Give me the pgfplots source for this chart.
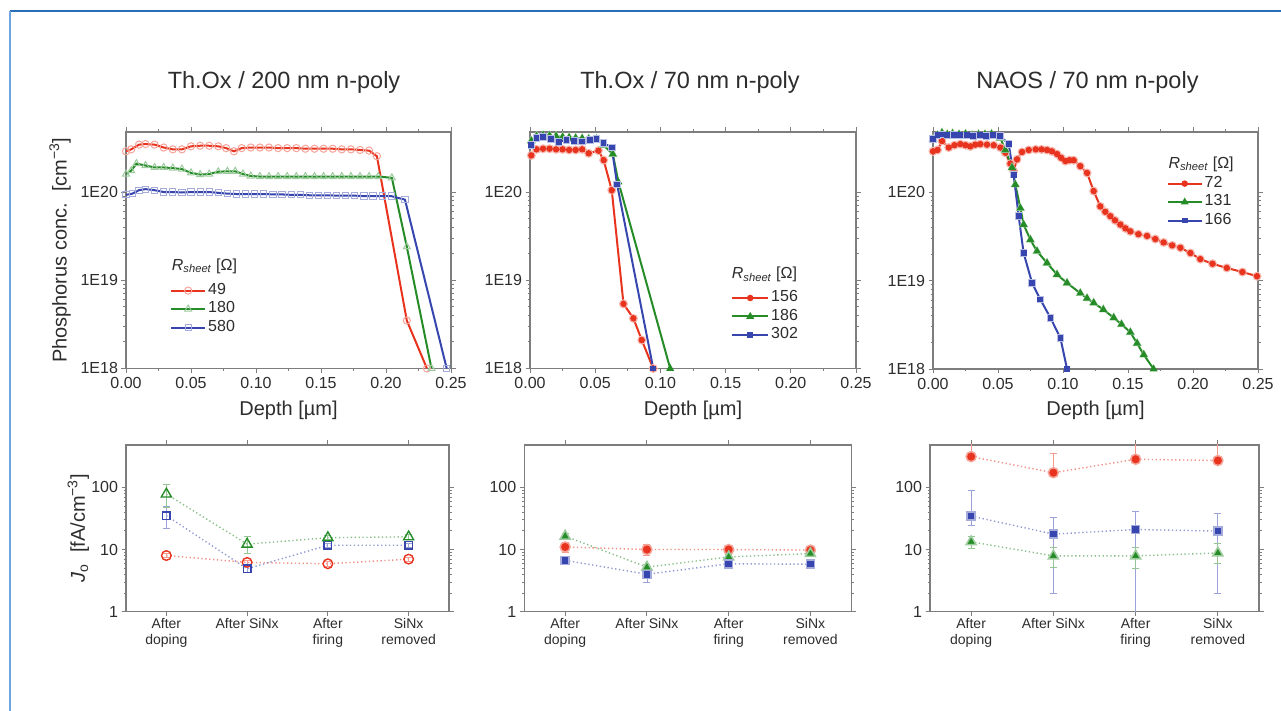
\documentclass[border=0pt]{standalone}
\usepackage{fontspec}
\setmainfont{Liberation Sans}
\usepackage{pgfplots}
\pgfplotsset{compat=1.18}

\definecolor{txt}{RGB}{45,45,45}
\definecolor{frame}{RGB}{125,125,125}
\definecolor{cred}{RGB}{232,52,30}
\definecolor{cgreen}{RGB}{38,140,40}
\definecolor{cblue}{RGB}{55,70,175}
\definecolor{edgeA}{RGB}{40,110,180}
\definecolor{edgeB}{RGB}{110,165,225}

\newcommand{\fs}[2]{\fontsize{#1}{#2}\selectfont}
\newcommand{\rsheet}{\textit{R}\textsubscript{\textit{sheet}} [Ω]}

\begin{document}
\begin{tikzpicture}
\useasboundingbox (0,0) rectangle (1281pt,711pt);
\fill[white] (0,0) rectangle (1281pt,711pt);
\draw[edgeA, line width=1.4pt] (10pt,700pt) -- (1281pt,700pt);
\draw[edgeB, line width=1.4pt] (10pt,700pt) -- (10pt,0pt);

\node[anchor=base, font=\fs{23.5}{28}, text=txt] at (284pt,622.7pt) {Th.Ox / 200 nm n-poly};
\node[anchor=base, font=\fs{23.5}{28}, text=txt] at (690pt,622.7pt) {Th.Ox / 70 nm n-poly};
\node[anchor=base, font=\fs{23.5}{28}, text=txt] at (1087.5pt,622.7pt) {NAOS / 70 nm n-poly};

% ---------- profile, Th.Ox / 200 nm ----------
\begin{axis}[
  at={(126pt,342.5pt)}, anchor=south west, scale only axis, width=325pt, height=236.5pt,
  ymode=log, xmin=0, xmax=0.25, ymin=1e18, ymax=4.8e20,
  axis line style={frame, line width=1.3pt},
  tick style={frame, line width=0.9pt},
  major tick length=4.5pt, minor tick length=2.5pt, tick align=outside,
  tick label style={font=\fs{16}{19}, text=txt},
  label style={font=\fs{20}{23}, text=txt},
  xtick={0,0.05,0.1,0.15,0.2,0.25}, minor x tick num=1,
  xticklabel style={/pgf/number format/fixed, /pgf/number format/fixed zerofill, /pgf/number format/precision=2, /pgf/number format/assume math mode=true, anchor=base, yshift=-16pt},
  ytick={1e18,1e19,1e20}, yticklabels={1E18,1E19,1E20},
  xlabel={Depth [µm]},
  xlabel style={at={(axis description cs:0.5,0)}, anchor=base, yshift=-47pt},
  ylabel={Phosphorus conc.\ \ [cm\textsuperscript{−3}]},
  ylabel style={at={(axis description cs:-0.1825,0.5)}, anchor=base},
  legend style={at={(axis description cs:0.1354,0.368)}, anchor=north west, draw=none, fill=none,
    inner sep=0pt, row sep=0.5pt, nodes={inner sep=2pt, text height=10.8pt, text depth=3.2pt},
    font=\fs{16}{19}, text=txt, cells={anchor=west}},
  legend image code/.code={\draw[mark repeat=2, mark phase=2, #1] plot coordinates {(0pt,0pt)(17pt,0pt)(34pt,0pt)};},
]
\addplot[cred, line width=2pt, mark=o, mark size=3.6pt, mark options={draw=cred!45, line width=1pt, fill=none}] coordinates {
(0.000,2.9e20)(0.004,3.05e20)(0.010,3.45e20)(0.015,3.5e20)(0.022,3.45e20)(0.029,3.2e20)
(0.036,3.05e20)(0.043,3.05e20)(0.050,3.3e20)(0.057,3.35e20)(0.064,3.35e20)(0.071,3.3e20)
(0.077,3.15e20)(0.083,2.9e20)(0.089,3.15e20)(0.096,3.2e20)(0.103,3.2e20)(0.110,3.2e20)
(0.117,3.15e20)(0.124,3.15e20)(0.131,3.15e20)(0.138,3.1e20)(0.145,3.1e20)(0.152,3.1e20)
(0.159,3.1e20)(0.166,3.05e20)(0.173,3.05e20)(0.180,3.0e20)(0.187,2.95e20)(0.193,2.55e20)
(0.216,3.5e18)(0.2315,1.0e18)};
\addlegendentry{49}
\addplot[cgreen, line width=2pt, mark=triangle, mark size=4pt, mark options={draw=cgreen!45, line width=1pt, fill=none}] coordinates {
(0.000,1.6e20)(0.004,1.75e20)(0.008,2.1e20)(0.015,2.0e20)(0.022,1.9e20)(0.029,1.9e20)
(0.036,1.87e20)(0.043,1.82e20)(0.050,1.65e20)(0.057,1.58e20)(0.064,1.6e20)(0.071,1.7e20)
(0.078,1.72e20)(0.084,1.72e20)(0.090,1.6e20)(0.096,1.52e20)(0.103,1.5e20)(0.110,1.5e20)
(0.117,1.5e20)(0.124,1.5e20)(0.131,1.5e20)(0.138,1.5e20)(0.145,1.5e20)(0.152,1.5e20)
(0.159,1.5e20)(0.166,1.5e20)(0.173,1.5e20)(0.180,1.5e20)(0.187,1.5e20)(0.194,1.5e20)
(0.2045,1.45e20)(0.216,2.4e19)(0.235,1.0e18)};
\addlegendentry{180}
\addplot[cblue, line width=2pt, mark=square, mark size=3.1pt, mark options={draw=cblue!45, line width=1pt, fill=none}] coordinates {
(0.000,9.3e19)(0.005,9.6e19)(0.010,1.05e20)(0.015,1.08e20)(0.022,1.05e20)(0.029,1.0e20)
(0.036,1.0e20)(0.043,0.99e20)(0.050,1.0e20)(0.057,1.0e20)(0.064,1.0e20)(0.071,0.98e20)
(0.078,0.96e20)(0.085,0.95e20)(0.092,0.95e20)(0.099,0.95e20)(0.106,0.95e20)(0.113,0.94e20)
(0.120,0.94e20)(0.127,0.93e20)(0.134,0.93e20)(0.141,0.92e20)(0.148,0.92e20)(0.155,0.92e20)
(0.162,0.91e20)(0.169,0.91e20)(0.176,0.91e20)(0.183,0.9e20)(0.190,0.9e20)(0.197,0.9e20)
(0.204,0.9e20)(0.2146,8.2e19)(0.2467,1.0e18)};
\addlegendentry{580}
\node[anchor=base west, inner sep=0pt, font=\fs{16}{19}, text=txt] at (axis description cs:0.1406,0.4147) {\rsheet};
\end{axis}

% ---------- profile, Th.Ox / 70 nm ----------
\begin{axis}[
  at={(530pt,342.5pt)}, anchor=south west, scale only axis, width=326pt, height=236.5pt,
  ymode=log, xmin=0, xmax=0.25, ymin=1e18, ymax=4.8e20,
  axis line style={frame, line width=1.3pt},
  tick style={frame, line width=0.9pt},
  major tick length=4.5pt, minor tick length=2.5pt, tick align=outside,
  tick label style={font=\fs{16}{19}, text=txt},
  label style={font=\fs{20}{23}, text=txt},
  xtick={0,0.05,0.1,0.15,0.2,0.25}, minor x tick num=1,
  xticklabel style={/pgf/number format/fixed, /pgf/number format/fixed zerofill, /pgf/number format/precision=2, /pgf/number format/assume math mode=true, anchor=base, yshift=-16pt},
  ytick={1e18,1e19,1e20}, yticklabels={1E18,1E19,1E20},
  xlabel={Depth [µm]},
  xlabel style={at={(axis description cs:0.5,0)}, anchor=base, yshift=-47pt},
  legend style={at={(axis description cs:0.6166,0.337)}, anchor=north west, draw=none, fill=none,
    inner sep=0pt, row sep=0.5pt, nodes={inner sep=2pt, text height=10.8pt, text depth=3.2pt},
    font=\fs{16}{19}, text=txt, cells={anchor=west}},
  legend image code/.code={\draw[mark repeat=2, mark phase=2, #1] plot coordinates {(0pt,0pt)(18pt,0pt)(36pt,0pt)};},
]
\addplot[cred!35, only marks, mark=o, mark size=4pt, line width=1pt, forget plot] coordinates {
(0.001,2.6e20)(0.005,3.05e20)(0.010,3.1e20)(0.015,3.1e20)(0.020,3.05e20)(0.025,3.05e20)(0.030,3.0e20)
(0.035,3.0e20)(0.040,3.05e20)(0.045,2.75e20)(0.0525,2.95e20)(0.0565,2.3e20)(0.0627,1.05e20)
(0.0717,5.4e18)(0.0793,3.7e18)(0.0857,2.1e18)(0.0945,1.0e18)};
\addplot[cred, line width=2pt, mark=*, mark size=2.2pt] coordinates {
(0.001,2.6e20)(0.005,3.05e20)(0.010,3.1e20)(0.015,3.1e20)(0.020,3.05e20)(0.025,3.05e20)(0.030,3.0e20)
(0.035,3.0e20)(0.040,3.05e20)(0.045,2.75e20)(0.0525,2.95e20)(0.0565,2.3e20)(0.0627,1.05e20)
(0.0717,5.4e18)(0.0793,3.7e18)(0.0857,2.1e18)(0.0945,1.0e18)};
\addlegendentry{156}
\addplot[cgreen!35, only marks, mark=triangle, mark size=4.5pt, line width=1pt, forget plot] coordinates {
(0.001,3.8e20)(0.005,4.3e20)(0.010,4.4e20)(0.015,4.35e20)(0.020,4.3e20)(0.025,4.2e20)(0.030,4.15e20)
(0.035,4.1e20)(0.040,4.05e20)(0.045,4.0e20)(0.051,4.0e20)(0.0563,3.4e20)(0.0635,2.7e20)};
\addplot[cgreen, line width=2pt, mark=triangle*, mark size=2.6pt] coordinates {
(0.001,3.8e20)(0.005,4.3e20)(0.010,4.4e20)(0.015,4.35e20)(0.020,4.3e20)(0.025,4.2e20)(0.030,4.15e20)
(0.035,4.1e20)(0.040,4.05e20)(0.045,4.0e20)(0.051,4.0e20)(0.0563,3.4e20)(0.0635,2.7e20)
(0.0678,1.3e20)(0.1075,1.0e18)};
\addlegendentry{186}
\addplot[cblue!35, only marks, mark=square, mark size=3.3pt, line width=1pt, forget plot] coordinates {
(0.001,3.4e20)(0.005,4.1e20)(0.010,4.2e20)(0.016,4.0e20)(0.022,3.7e20)(0.028,3.9e20)(0.034,3.8e20)
(0.040,3.75e20)(0.046,3.9e20)(0.051,4.0e20)(0.0563,3.6e20)(0.0627,3.2e20)(0.0668,1.22e20)};
\addplot[cblue, line width=2pt, mark=square*, mark size=1.9pt] coordinates {
(0.001,3.4e20)(0.005,4.1e20)(0.010,4.2e20)(0.016,4.0e20)(0.022,3.7e20)(0.028,3.9e20)(0.034,3.8e20)
(0.040,3.75e20)(0.046,3.9e20)(0.051,4.0e20)(0.0563,3.6e20)(0.0627,3.2e20)(0.0668,1.22e20)
(0.0945,1.0e18)};
\addlegendentry{302}
\node[anchor=base west, inner sep=0pt, font=\fs{16}{19}, text=txt] at (axis description cs:0.6187,0.380) {\rsheet};
\end{axis}

% ---------- profile, NAOS / 70 nm ----------
\begin{axis}[
  at={(933pt,342pt)}, anchor=south west, scale only axis, width=325pt, height=237pt,
  ymode=log, xmin=0, xmax=0.25, ymin=1e18, ymax=4.8e20,
  axis line style={frame, line width=1.3pt},
  tick style={frame, line width=0.9pt},
  major tick length=4.5pt, minor tick length=2.5pt, tick align=outside,
  tick label style={font=\fs{16}{19}, text=txt},
  label style={font=\fs{20}{23}, text=txt},
  xtick={0,0.05,0.1,0.15,0.2,0.25}, minor x tick num=1,
  xticklabel style={/pgf/number format/fixed, /pgf/number format/fixed zerofill, /pgf/number format/precision=2, /pgf/number format/assume math mode=true, anchor=base, yshift=-16pt},
  ytick={1e18,1e19,1e20}, yticklabels={1E18,1E19,1E20},
  xlabel={Depth [µm]},
  xlabel style={at={(axis description cs:0.5,0)}, anchor=base, yshift=-47pt},
  legend style={at={(axis description cs:0.7185,0.821)}, anchor=north west, draw=none, fill=none,
    inner sep=0pt, row sep=0.5pt, nodes={inner sep=2pt, text height=10.8pt, text depth=3.2pt},
    font=\fs{16}{19}, text=txt, cells={anchor=west}},
  legend image code/.code={\draw[mark repeat=2, mark phase=2, #1] plot coordinates {(0pt,0pt)(17pt,0pt)(34pt,0pt)};},
]
\addplot[cred!35, only marks, mark=o, mark size=4pt, line width=1pt, forget plot] coordinates {
(0.000,2.9e20)(0.0035,3.0e20)(0.0069,3.8e20)(0.0121,3.2e20)(0.0165,3.4e20)(0.021,3.5e20)(0.025,3.4e20)
(0.0287,3.3e20)(0.0325,3.45e20)(0.0364,3.5e20)(0.0415,3.45e20)(0.0467,3.4e20)(0.0518,3.2e20)
(0.0556,2.8e20)(0.0595,2.1e20)(0.062,1.73e20)(0.0646,2.35e20)(0.0685,2.85e20)(0.0736,3.0e20)
(0.079,3.05e20)(0.0835,3.05e20)(0.0877,3.0e20)(0.0915,2.9e20)(0.0954,2.7e20)(0.0985,2.45e20)
(0.1018,2.25e20)(0.105,2.3e20)(0.1082,2.3e20)(0.1133,1.97e20)(0.1185,1.65e20)(0.1236,1.03e20)
(0.1287,6.9e19)(0.1325,6.0e19)(0.1364,5.35e19)(0.140,4.8e19)(0.1441,4.3e19)(0.148,3.9e19)
(0.1518,3.6e19)(0.158,3.35e19)(0.1646,3.2e19)(0.171,2.95e19)(0.1774,2.7e19)(0.184,2.5e19)
(0.1903,2.35e19)(0.198,2.05e19)(0.2056,1.75e19)(0.215,1.55e19)(0.226,1.39e19)(0.238,1.25e19)
(0.2492,1.12e19)};
\addplot[cred, line width=2pt, mark=*, mark size=2.2pt] coordinates {
(0.000,2.9e20)(0.0035,3.0e20)(0.0069,3.8e20)(0.0121,3.2e20)(0.0165,3.4e20)(0.021,3.5e20)(0.025,3.4e20)
(0.0287,3.3e20)(0.0325,3.45e20)(0.0364,3.5e20)(0.0415,3.45e20)(0.0467,3.4e20)(0.0518,3.2e20)
(0.0556,2.8e20)(0.0595,2.1e20)(0.062,1.73e20)(0.0646,2.35e20)(0.0685,2.85e20)(0.0736,3.0e20)
(0.079,3.05e20)(0.0835,3.05e20)(0.0877,3.0e20)(0.0915,2.9e20)(0.0954,2.7e20)(0.0985,2.45e20)
(0.1018,2.25e20)(0.105,2.3e20)(0.1082,2.3e20)(0.1133,1.97e20)(0.1185,1.65e20)(0.1236,1.03e20)
(0.1287,6.9e19)(0.1325,6.0e19)(0.1364,5.35e19)(0.140,4.8e19)(0.1441,4.3e19)(0.148,3.9e19)
(0.1518,3.6e19)(0.158,3.35e19)(0.1646,3.2e19)(0.171,2.95e19)(0.1774,2.7e19)(0.184,2.5e19)
(0.1903,2.35e19)(0.198,2.05e19)(0.2056,1.75e19)(0.215,1.55e19)(0.226,1.39e19)(0.238,1.25e19)
(0.2492,1.12e19)};
\addlegendentry{72}
\addplot[cgreen!35, only marks, mark=triangle, mark size=4.5pt, line width=1pt, forget plot] coordinates {
(0.000,4.0e20)(0.0035,4.4e20)(0.0069,4.7e20)(0.011,4.5e20)(0.015,4.6e20)(0.020,4.5e20)(0.025,4.55e20)
(0.030,4.4e20)(0.035,4.5e20)(0.040,4.5e20)(0.045,4.55e20)(0.0518,4.1e20)(0.0556,3.0e20)
(0.0608,1.9e20)(0.0633,1.22e20)(0.0672,6.6e19)(0.0697,4.3e19)(0.0749,2.9e19)(0.080,2.15e19)
(0.0877,1.58e19)(0.0954,1.17e19)(0.1031,9.4e18)(0.1133,7.2e18)(0.1185,6.3e18)(0.1236,5.6e18)
(0.131,4.7e18)(0.139,3.8e18)(0.145,3.2e18)(0.1518,2.6e18)(0.157,1.95e18)(0.1621,1.45e18)};
\addplot[cgreen, line width=2pt, mark=triangle*, mark size=2.6pt] coordinates {
(0.000,4.0e20)(0.0035,4.4e20)(0.0069,4.7e20)(0.011,4.5e20)(0.015,4.6e20)(0.020,4.5e20)(0.025,4.55e20)
(0.030,4.4e20)(0.035,4.5e20)(0.040,4.5e20)(0.045,4.55e20)(0.0518,4.1e20)(0.0556,3.0e20)
(0.0608,1.9e20)(0.0633,1.22e20)(0.0672,6.6e19)(0.0697,4.3e19)(0.0749,2.9e19)(0.080,2.15e19)
(0.0877,1.58e19)(0.0954,1.17e19)(0.1031,9.4e18)(0.1133,7.2e18)(0.1185,6.3e18)(0.1236,5.6e18)
(0.131,4.7e18)(0.139,3.8e18)(0.145,3.2e18)(0.1518,2.6e18)(0.157,1.95e18)(0.1621,1.45e18)
(0.1697,1.0e18)};
\addlegendentry{131}
\addplot[cblue!35, only marks, mark=square, mark size=3.3pt, line width=1pt, forget plot] coordinates {
(0.000,4.0e20)(0.0035,4.4e20)(0.0069,4.5e20)(0.011,4.4e20)(0.016,4.45e20)(0.021,4.4e20)(0.026,4.4e20)
(0.031,4.35e20)(0.036,4.4e20)(0.041,4.35e20)(0.046,4.4e20)(0.0518,4.3e20)(0.0582,3.5e20)
(0.062,1.58e20)(0.0659,5.35e19)(0.0697,2.05e19)(0.0762,9.4e18)(0.0826,6.1e18)(0.0903,3.8e18)
(0.098,2.24e18)};
\addplot[cblue, line width=2pt, mark=square*, mark size=1.9pt] coordinates {
(0.000,4.0e20)(0.0035,4.4e20)(0.0069,4.5e20)(0.011,4.4e20)(0.016,4.45e20)(0.021,4.4e20)(0.026,4.4e20)
(0.031,4.35e20)(0.036,4.4e20)(0.041,4.35e20)(0.046,4.4e20)(0.0518,4.3e20)(0.0582,3.5e20)
(0.062,1.58e20)(0.0659,5.35e19)(0.0697,2.05e19)(0.0762,9.4e18)(0.0826,6.1e18)(0.0903,3.8e18)
(0.098,2.24e18)(0.1031,1.0e18)};
\addlegendentry{166}
\node[anchor=base west, inner sep=0pt, font=\fs{16}{19}, text=txt] at (axis description cs:0.724,0.847) {\rsheet};
\end{axis}

% ---------- Jo, Th.Ox / 200 nm ----------
\begin{axis}[
  at={(126pt,99.3pt)}, anchor=south west, scale only axis, width=323pt, height=166.7pt,
  ymode=log, ymin=1, ymax=480, xmin=-0.5, xmax=3.5,
  axis line style={frame, line width=1.3pt},
  tick style={frame, line width=0.9pt},
  major tick length=4.5pt, minor tick length=2.5pt, tick align=outside,
  tick label style={font=\fs{16}{19}, text=txt},
  label style={font=\fs{20}{23}, text=txt},
  ytick={1,10,100}, yticklabels={1,10,100},
  xtick={0,1,2,3}, xticklabels={After\\doping, After SiNx, After\\firing, SiNx\\removed},
  xticklabel style={font=\fs{14}{15.7}, align=center, anchor=north, yshift=1pt},
  ylabel={\textit{J}\textsubscript{o}\ \ [fA/cm\textsuperscript{−3}]},
  ylabel style={at={(axis description cs:-0.127,0.5)}, anchor=base},
]
\addplot[cred!55, line width=1.4pt, dash pattern=on 1.3pt off 2.6pt, mark=o, mark size=4.8pt,
  mark options={solid, draw=cred, line width=1.4pt, fill=none},
  error bars/.cd, y dir=both, y explicit,
  error bar style={cred!50, line width=0.8pt, solid},
  error mark options={rotate=90, mark size=3.5pt, cred!50, line width=0.8pt}] coordinates {
(0,8) +- (0,0.6) (1,6.2) +- (0,0.5) (2,5.9) +- (0,0.5) (3,7.0) +- (0,0.5)};
\addplot[cblue!55, line width=1.4pt, dash pattern=on 1.3pt off 2.6pt, mark=square, mark size=3.7pt,
  mark options={solid, draw=cblue, line width=1.4pt, fill=none},
  error bars/.cd, y dir=both, y explicit,
  error bar style={cblue!50, line width=0.8pt, solid},
  error mark options={rotate=90, mark size=3.5pt, cblue!50, line width=0.8pt}] coordinates {
(0,35) += (0,14) -= (0,13) (1,4.9) +- (0,0.6) (2,11.7) +- (0,1) (3,11.7) +- (0,1)};
\addplot[cgreen!55, line width=1.4pt, dash pattern=on 1.3pt off 2.6pt, mark=triangle, mark size=5.8pt,
  mark options={solid, draw=cgreen, line width=1.4pt, fill=none},
  error bars/.cd, y dir=both, y explicit,
  error bar style={cgreen!50, line width=0.8pt, solid},
  error mark options={rotate=90, mark size=3.5pt, cgreen!50, line width=0.8pt}] coordinates {
(0,78) += (0,35) -= (0,30) (1,12.2) += (0,4) -= (0,3.5) (2,15.5) +- (0,1.2) (3,16) +- (0,1.2)};
\end{axis}

% ---------- Jo, Th.Ox / 70 nm ----------
\begin{axis}[
  at={(524.3pt,99.3pt)}, anchor=south west, scale only axis, width=327pt, height=166.7pt,
  ymode=log, ymin=1, ymax=480, xmin=-0.5, xmax=3.5,
  axis line style={frame, line width=1.3pt},
  tick style={frame, line width=0.9pt},
  major tick length=4.5pt, minor tick length=2.5pt, tick align=outside,
  tick label style={font=\fs{16}{19}, text=txt},
  ytick={1,10,100}, yticklabels={1,10,100},
  xtick={0,1,2,3}, xticklabels={After\\doping, After SiNx, After\\firing, SiNx\\removed},
  xticklabel style={font=\fs{14}{15.7}, align=center, anchor=north, yshift=1pt},
]
\addplot[cred!55, line width=1.4pt, dash pattern=on 1.3pt off 2.6pt, mark=*, mark size=5pt,
  mark options={solid, draw=cred!45, fill=cred, line width=1.5pt},
  error bars/.cd, y dir=both, y explicit,
  error bar style={cred!50, line width=0.8pt, solid},
  error mark options={rotate=90, mark size=3.5pt, cred!50, line width=0.8pt}] coordinates {
(0,11) +- (0,2) (1,10) +- (0,2) (2,10) +- (0,1) (3,9.8) +- (0,1)};
\addplot[cgreen!55, line width=1.4pt, dash pattern=on 1.3pt off 2.6pt, mark=triangle*, mark size=5.8pt,
  mark options={solid, draw=cgreen!45, fill=cgreen, line width=1.5pt},
  error bars/.cd, y dir=both, y explicit,
  error bar style={cgreen!50, line width=0.8pt, solid},
  error mark options={rotate=90, mark size=3.5pt, cgreen!50, line width=0.8pt}] coordinates {
(0,16.4) +- (0,2) (1,5.2) +- (0,0.6) (2,7.6) +- (0,0.8) (3,8.6) +- (0,0.8)};
\addplot[cblue!55, line width=1.4pt, dash pattern=on 1.3pt off 2.6pt, mark=square*, mark size=4pt,
  mark options={solid, draw=cblue!45, fill=cblue, line width=1.5pt},
  error bars/.cd, y dir=both, y explicit,
  error bar style={cblue!50, line width=0.8pt, solid},
  error mark options={rotate=90, mark size=3.5pt, cblue!50, line width=0.8pt}] coordinates {
(0,6.7) +- (0,0.6) (1,4.0) +- (0,1) (2,5.9) +- (0,0.5) (3,5.8) +- (0,0.5)};
\end{axis}

% ---------- Jo, NAOS / 70 nm ----------
\begin{axis}[
  at={(930pt,99.3pt)}, anchor=south west, scale only axis, width=329pt, height=166.7pt,
  ymode=log, ymin=1, ymax=480, xmin=-0.5, xmax=3.5,
  axis line style={frame, line width=1.3pt},
  tick style={frame, line width=0.9pt},
  major tick length=4.5pt, minor tick length=2.5pt, tick align=outside,
  tick label style={font=\fs{16}{19}, text=txt},
  ytick={1,10,100}, yticklabels={1,10,100},
  xtick={0,1,2,3}, xticklabels={After\\doping, After SiNx, After\\firing, SiNx\\removed},
  xticklabel style={font=\fs{14}{15.7}, align=center, anchor=north, yshift=1pt},
]
\addplot[cred!55, line width=1.4pt, dash pattern=on 1.3pt off 2.6pt, mark=*, mark size=5pt,
  mark options={solid, draw=cred!45, fill=cred, line width=1.5pt},
  error bars/.cd, y dir=plus, y explicit,
  error bar style={cred!50, line width=0.8pt, solid},
  error mark options={rotate=90, mark size=3.5pt, cred!50, line width=0.8pt}] coordinates {
(0,312) += (0,300) (1,172) += (0,180) (2,283) += (0,300) (3,270) += (0,300)};
\addplot[cblue!55, line width=1.4pt, dash pattern=on 1.3pt off 2.6pt, mark=square*, mark size=4pt,
  mark options={solid, draw=cblue!45, fill=cblue, line width=1.5pt},
  error bars/.cd, y dir=both, y explicit,
  error bar style={cblue!50, line width=0.8pt, solid},
  error mark options={rotate=90, mark size=3.5pt, cblue!50, line width=0.8pt}] coordinates {
(0,34.5) += (0,54) -= (0,10) (1,17.7) += (0,15.5) -= (0,15.7) (2,21) += (0,20) -= (0,20.7) (3,19.8) += (0,18) -= (0,17.8)};
\addplot[cgreen!55, line width=1.4pt, dash pattern=on 1.3pt off 2.6pt, mark=triangle*, mark size=5.8pt,
  mark options={solid, draw=cgreen!45, fill=cgreen, line width=1.5pt},
  error bars/.cd, y dir=both, y explicit,
  error bar style={cgreen!50, line width=0.8pt, solid},
  error mark options={rotate=90, mark size=3.5pt, cgreen!50, line width=0.8pt}] coordinates {
(0,13.3) += (0,2.7) -= (0,2.9) (1,7.9) += (0,3.1) -= (0,2.7) (2,7.9) += (0,3.1) -= (0,2.9) (3,8.8) += (0,3.8) -= (0,2.8)};
\end{axis}
\end{tikzpicture}
\end{document}
